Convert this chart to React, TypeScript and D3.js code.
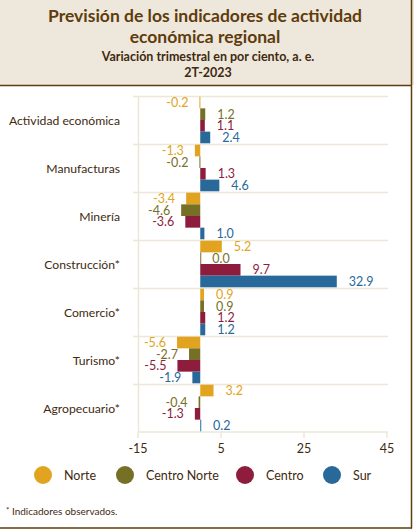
import React from "react";
import * as d3 from "d3";

const categories = ["Actividad económica", "Manufacturas", "Minería", "Construcción*", "Comercio*", "Turismo*", "Agropecuario*"];
const seriesNames = ["Norte", "Centro Norte", "Centro", "Sur"];
const norte = [-0.2, -1.3, -3.4, 5.2, 0.9, -5.6, 3.2];
const centroNorte = [1.2, -0.2, -4.6, 0.0, 0.9, -2.7, -0.4];
const centro = [1.1, 1.3, -3.6, 9.7, 1.2, -5.5, -1.3];
const sur = [2.4, 4.6, 1.0, 32.9, 1.2, -1.9, 0.2];
const xTicks = [-15, 5, 25, 45];
const colors = ["#E2A420", "#767026", "#8E1C3D", "#28699A"];

const W = 414;
const H = 530;
const FONT = "Lato, 'Open Sans', sans-serif";
const BROWN = "#5E3C0C";
const TEXT = "#3F2A10";
const GRID = "#EEE7D8";

export default function App() {
  const series = [norte, centroNorte, centro, sur];
  const x = d3.scaleLinear().domain([-15, 45]).range([138, 387]);
  const y = d3.scaleBand<string>().domain(categories).range([96, 432]).padding(0);
  const inner = d3
    .scaleBand<string>()
    .domain(seriesNames)
    .range([0, y.bandwidth()])
    .paddingInner(0)
    .paddingOuter(0.06);
  const x0 = x(0);

  return (
    <svg width={W} height={H} style={{ position: "absolute", left: 0, top: 0, background: "#fff" }} fontFamily={FONT}>
      <rect x={0} y={0} width={W} height={85} fill="#EEE7DC" />
      <line x1={0} x2={412} y1={85.5} y2={85.5} stroke={BROWN} strokeWidth={1.5} />
      <line x1={411.5} x2={411.5} y1={0} y2={528.5} stroke={BROWN} strokeWidth={1.5} />
      <line x1={0} x2={412} y1={528} y2={528} stroke={BROWN} strokeWidth={1.5} />

      <text x={205} y={22} textAnchor="middle" fontSize={17.5} fontWeight={700} fill={BROWN}>
        Previsión de los indicadores de actividad
      </text>
      <text x={205} y={43} textAnchor="middle" fontSize={17.5} fontWeight={700} fill={BROWN}>
        económica regional
      </text>
      <text x={208} y={61} textAnchor="middle" fontSize={12.5} fontWeight={700} fill={TEXT}>
        Variación trimestral en por ciento, a. e.
      </text>
      <text x={208} y={77} textAnchor="middle" fontSize={12.5} fontWeight={700} fill={TEXT}>
        2T-2023
      </text>

      {categories.map((c) => (
        <line key={c} x1={133} x2={388} y1={(y(c) as number) + 0.5} y2={(y(c) as number) + 0.5} stroke={GRID} strokeWidth={1.5} />
      ))}
      <line x1={138.5} x2={138.5} y1={96} y2={432} stroke={GRID} strokeWidth={1.5} />
      <line x1={138} x2={388} y1={432} y2={432} stroke={GRID} strokeWidth={1.5} />
      {xTicks.map((t) => (
        <g key={t}>
          <line x1={x(t)} x2={x(t)} y1={432} y2={438} stroke={GRID} strokeWidth={1.5} />
          <text x={x(t)} y={453} textAnchor="middle" fontSize={12.5} fill={TEXT}>
            {t}
          </text>
        </g>
      ))}

      {categories.map((c) => (
        <text key={c} x={120} y={(y(c) as number) + y.bandwidth() / 2 + 4.5} textAnchor="end" fontSize={12.2} fill={TEXT}>
          {c}
        </text>
      ))}

      {series.map((vals, si) =>
        vals.map((v, ci) => {
          const yy = (y(categories[ci]) as number) + (inner(seriesNames[si]) as number);
          const h = inner.bandwidth();
          const xv = x(v);
          const left = Math.min(xv, x0);
          const w = Math.max(Math.abs(xv - x0), 1);
          const pos = v >= 0;
          return (
            <g key={si + "-" + ci}>
              <rect x={v === 0 ? x0 : left} y={yy} width={w} height={h} fill={colors[si]} />
              <text
                x={pos ? Math.max(xv, x0) + 12 : xv - 11}
                y={yy + h / 2 + 4.5}
                textAnchor={pos ? "start" : "end"}
                fontSize={12.5}
                fill={colors[si]}
              >
                {v.toFixed(1)}
              </text>
            </g>
          );
        })
      )}

      {seriesNames.map((s, i) => {
        const cx = [43, 125, 245, 332][i];
        return (
          <g key={s}>
            <circle cx={cx} cy={475} r={9} fill={colors[i]} />
            <text x={cx + 21} y={479.5} fontSize={12.5} fill={TEXT}>
              {s}
            </text>
          </g>
        );
      })}

      <text x={6} y={515} fontSize={10} fill={TEXT}>
        <tspan fontSize={8} dy={-2}>*</tspan>
        <tspan dy={2}> Indicadores observados.</tspan>
      </text>
    </svg>
  );
}
